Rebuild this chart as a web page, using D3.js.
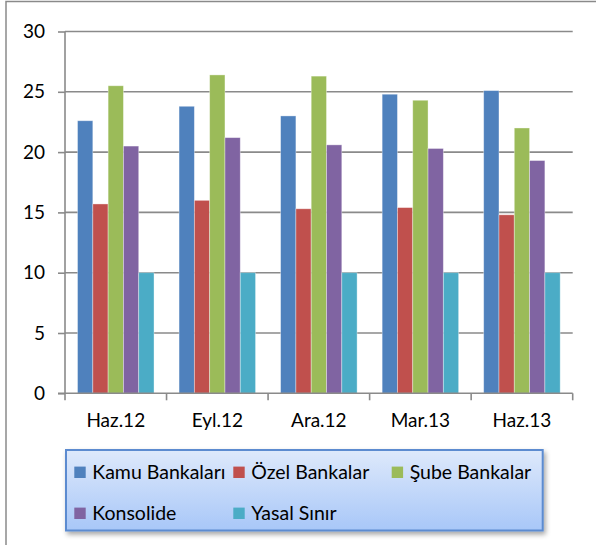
<!DOCTYPE html>
<html><head><meta charset="utf-8">
<script src="https://cdn.jsdelivr.net/npm/d3@7"></script>
<style>body{margin:0;background:#fff}svg{display:block}</style>
</head><body>
<script>
const categories = ["Haz.12","Eyl.12","Ara.12","Mar.13","Haz.13"];
const seriesNames = ["Kamu Bankaları","Özel Bankalar","Şube Bankalar","Konsolide","Yasal Sınır"];
const kamu = [22.6, 23.8, 23.0, 24.8, 25.1];
const ozel = [15.7, 16.0, 15.3, 15.4, 14.8];
const sube = [25.5, 26.4, 26.3, 24.3, 22.0];
const konsolide = [20.5, 21.2, 20.6, 20.3, 19.3];
const yasal = [10, 10, 10, 10, 10];
const yTicks = [0,5,10,15,20,25,30];
const colors = ["#4f81bd","#c0504d","#9bbb59","#8064a2","#4bacc6"];
const seriesValues = [kamu, ozel, sube, konsolide, yasal];

(function(){
const W = 596, H = 545;
const svg = d3.select("body").append("svg").attr("width", W).attr("height", H);
const font = "Lato, 'Open Sans', sans-serif";

// outer frame
svg.append("rect").attr("x",6).attr("y",1.5).attr("width",800).attr("height",800)
  .attr("fill","none").attr("stroke","#8a8a8a").attr("stroke-width",1.5);

const pl = 65, pr = 572.7, pt = 31.5, pb = 393.3;
const x = d3.scaleBand().domain(categories).range([pl, pr]);
const y = d3.scaleLinear().domain([0,30]).range([pb, pt]);
const barW = 15.3;
const groupW = barW * seriesNames.length;
const xs = d3.scaleBand().domain(d3.range(seriesNames.length))
  .range([(x.bandwidth()-groupW)/2, (x.bandwidth()+groupW)/2]);

// gridlines
svg.append("g").selectAll("line").data(yTicks.filter(d=>d>0)).join("line")
  .attr("x1", pl).attr("x2", pr).attr("y1", d=>y(d)).attr("y2", d=>y(d))
  .attr("stroke","#8a8a8a").attr("stroke-width",1.6);

// bars
const groups = svg.append("g").selectAll("g").data(categories).join("g")
  .attr("transform", c=>`translate(${x(c)},0)`);
groups.selectAll("rect").data((c,i)=>seriesValues.map((s,k)=>({k, v:s[i]}))).join("rect")
  .attr("x", d=>xs(d.k)).attr("width", xs.bandwidth())
  .attr("y", d=>y(d.v)).attr("height", d=>y(0)-y(d.v))
  .attr("fill", d=>colors[d.k]).attr("stroke","rgba(255,255,255,0.45)").attr("stroke-width",0.8);

// y axis
const yAxis = d3.axisLeft(y).tickValues(yTicks).tickSize(7).tickPadding(13);
const gy = svg.append("g").attr("transform",`translate(${pl},0)`).call(yAxis);
gy.select(".domain").attr("stroke","#8a8a8a").attr("stroke-width",1.6).attr("d",`M0,${pt}V${pb}`);
gy.selectAll(".tick line").attr("stroke","#8a8a8a").attr("stroke-width",1.6);
gy.selectAll(".tick text").attr("font-family",font).attr("font-size",19).attr("fill","#000");

// x axis
const xAxis = d3.axisBottom(x).tickSize(0).tickPadding(0);
const gx = svg.append("g").attr("transform",`translate(0,${pb})`).call(xAxis);
gx.select(".domain").attr("stroke","#8a8a8a").attr("stroke-width",1.6).attr("d",`M${pl-7},0H${pr}`);
gx.selectAll(".tick text").attr("font-family",font).attr("font-size",19).attr("fill","#000")
  .attr("y", 27.4).attr("dy","0.35em");
const bounds = [...categories.map(c=>x(c)), pr];
gx.append("g").selectAll("line").data(bounds).join("line")
  .attr("x1",d=>d).attr("x2",d=>d).attr("y1",0).attr("y2",7)
  .attr("stroke","#8a8a8a").attr("stroke-width",1.6);

// legend
const defs = svg.append("defs");
const grad = defs.append("linearGradient").attr("id","lg").attr("x1",0).attr("y1",0).attr("x2",0).attr("y2",1);
grad.append("stop").attr("offset","0%").attr("stop-color","#dee9fb");
grad.append("stop").attr("offset","100%").attr("stop-color","#a8c7f8");
const filt = defs.append("filter").attr("id","sh").attr("x","-5%").attr("y","-10%").attr("width","115%").attr("height","140%");
filt.append("feDropShadow").attr("dx",2).attr("dy",3).attr("stdDeviation",2.5).attr("flood-color","#000").attr("flood-opacity",0.35);

const lx = 66, ly = 450, lw = 476.7, lh = 80.5;
svg.append("rect").attr("x",lx).attr("y",ly).attr("width",lw).attr("height",lh)
  .attr("fill","url(#lg)").attr("stroke","#5b8bd0").attr("stroke-width",2).attr("filter","url(#sh)");
const legPos = [[74.3,472.3],[233.3,472.3],[391.7,472.3],[74.3,513.3],[233.3,513.3]];
const lg = svg.append("g").selectAll("g").data(seriesNames).join("g")
  .attr("transform",(d,i)=>`translate(${legPos[i][0]},${legPos[i][1]})`);
lg.append("rect").attr("x",0).attr("y",-5.7).attr("width",11.4).attr("height",11.4).attr("fill",(d,i)=>colors[i]);
lg.append("text").attr("x",18).attr("y",0).attr("dy","0.35em").text(d=>d)
  .attr("font-family",font).attr("font-size",19.5).attr("fill","#000");
})();
</script>
</body></html>
